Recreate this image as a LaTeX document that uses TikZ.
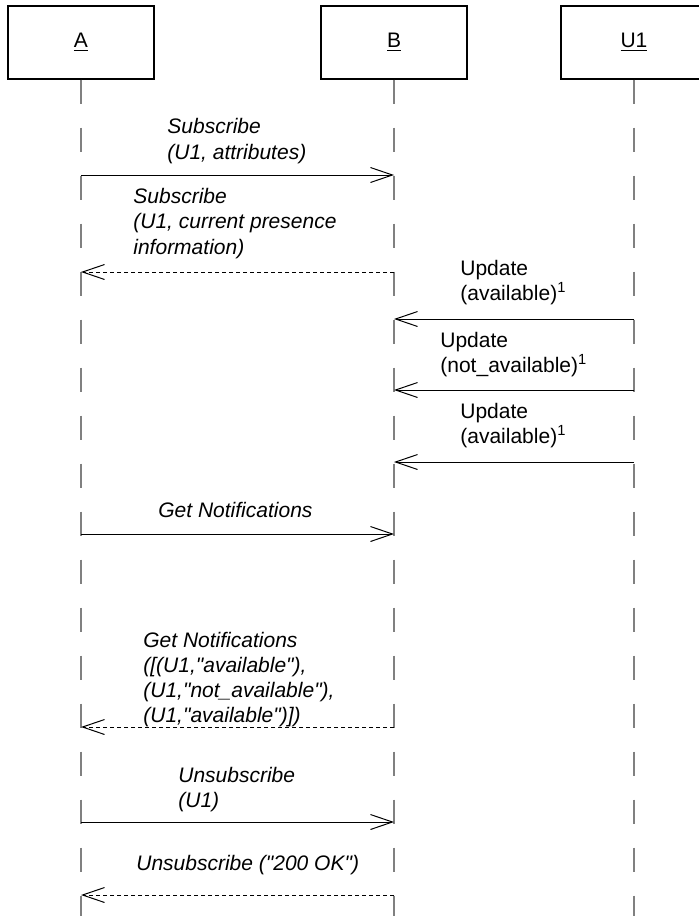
\documentclass[tikz,border=0pt]{standalone}
\usepackage{fontspec}
\setmainfont{Liberation Sans}
\usetikzlibrary{arrows.meta, positioning, calc}
\tikzset{
    % participant box at the head of a lifeline
    actor/.style={draw, line width=0.7pt, minimum width=73pt, minimum height=36.5pt,
        inner sep=0pt, font=\fontsize{10.5}{12.6}\selectfont},
    % dashed grey lifeline below each participant
    lifeline/.style={draw=gray, line width=0.65pt, dash pattern=on 12pt off 12pt},
    % request messages (solid) and replies (dashed)
    call/.style={-{Straight Barb[length=11pt, width=7.5pt]}, line width=0.5pt},
    reply/.style={call, dash pattern=on 2pt off 1.5pt},
    % message texts, upright and italic
    msg/.style={anchor=west, align=left, inner sep=0pt, font=\fontsize{10.5}{12.6}\selectfont},
    imsg/.style={msg, font=\fontsize{10.5}{12.6}\selectfont\itshape},
}
\newcommand{\dq}{\textquotedbl}

\begin{document}
\begin{tikzpicture}[x=0.5pt, y=-0.5pt]

    \useasboundingbox (0,0) rectangle (699,916);
    \clip (0,0) rectangle (699,916);

    % ---- participants ----
    \node[actor] (A)  at (81, 42.5)  {\underline{A}};
    \node[actor] (B)  at (394, 42.5) {\underline{B}};
    \node[actor] (U1) at (634, 42.5) {\underline{U1}};

    \coordinate (bot) at (0, 916);
    \foreach \p in {A,B,U1}{ \draw[lifeline] (\p.south) -- (\p.south |- bot); }

    % ---- message levels ----
    \foreach \m/\y in {m1/175, m2/272, m3/319, m4/390, m5/462,
                       m6/534, m7/727, m8/822, m9/895}{
        \coordinate (\m) at (0, \y);
    }

    % subscribe
    \draw[call]  (A.south |- m1) -- (B.south |- m1);
    \node[imsg] (t1) at (167, 141) {Subscribe\\(U1, attributes)};
    \draw[reply] (B.south |- m2) -- (A.south |- m2);
    \node[imsg] (t2) at (133, 223.5) {Subscribe\\(U1, current presence\\information)};

    % updates from U1
    \draw[call] (U1.south |- m3) -- (B.south |- m3);
    \node[msg] (t3) at (460, 282.5) {Update\\(available)\textsuperscript{1}};
    \draw[call] (U1.south |- m4) -- (B.south |- m4);
    \node[msg] (t4) at (440, 354.5) {Update\\(not\_available)\textsuperscript{1}};
    \draw[call] (U1.south |- m5) -- (B.south |- m5);
    \node[msg] (t5) at (460, 425.5) {Update\\(available)\textsuperscript{1}};

    % get notifications
    \draw[call]  (A.south |- m6) -- (B.south |- m6);
    \node[imsg] (t6) at (158, 510) {Get Notifications};
    \draw[reply] (B.south |- m7) -- (A.south |- m7);
    \node[imsg] (t7) at (143, 679.5) {Get Notifications\\([(U1,\dq available\dq),\\(U1,\dq not\_available\dq),\\(U1,\dq available\dq)])};

    % unsubscribe
    \draw[call]  (A.south |- m8) -- (B.south |- m8);
    \node[imsg] (t8) at (178, 789.5) {Unsubscribe\\(U1)};
    \draw[reply] (B.south |- m9) -- (A.south |- m9);
    \node[imsg] (t9) at (136, 865) {Unsubscribe (\dq 200 OK\dq)};

\end{tikzpicture}
\end{document}
